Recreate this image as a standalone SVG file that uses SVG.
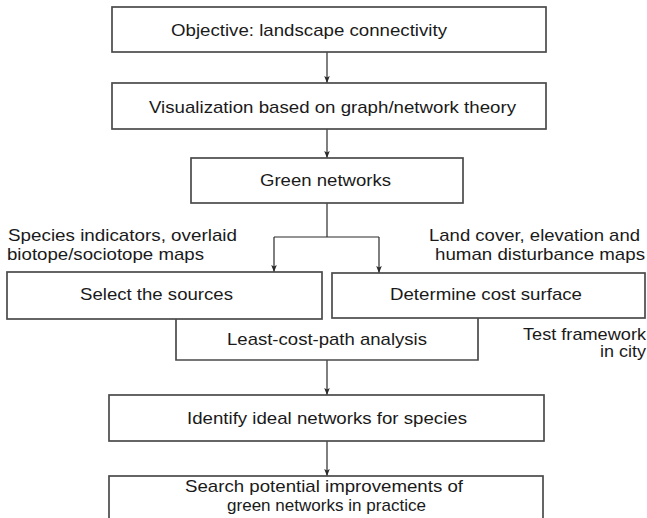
<svg xmlns="http://www.w3.org/2000/svg" width="647" height="518" viewBox="0 0 647 518">
<style>
.box{fill:#fff;stroke:#4a4a4a;stroke-width:1.7}
.ln{fill:none;stroke:#2a2a2a;stroke-width:1.2}
text{font-family:"Liberation Sans",Arial,sans-serif;font-size:17px;fill:#1a1a1a}
.c{text-anchor:middle}
.e{text-anchor:end}
</style>
<defs>
<marker id="ah" viewBox="0 0 7 6" refX="7" refY="3" markerWidth="7" markerHeight="6" markerUnits="userSpaceOnUse" orient="auto">
<path d="M0,0.2 L7,3 L0,5.8 L1.5,3 Z" fill="#2a2a2a"/>
</marker>
</defs>
<rect width="647" height="518" fill="#fff"/>
<g id="connectors">
<line class="ln" x1="327" y1="52" x2="327" y2="83" marker-end="url(#ah)"/>
<line class="ln" x1="327" y1="129" x2="327" y2="158" marker-end="url(#ah)"/>
<path class="ln" d="M327,203 V237"/>
<path class="ln" d="M274,237 H379"/>
<line class="ln" x1="274" y1="237" x2="274" y2="272" marker-end="url(#ah)"/>
<line class="ln" x1="379" y1="237" x2="379" y2="273" marker-end="url(#ah)"/>
<line class="ln" x1="327" y1="360" x2="327" y2="395" marker-end="url(#ah)"/>
<line class="ln" x1="327" y1="441" x2="327" y2="476" marker-end="url(#ah)"/>
</g>
<g id="objective">
<rect class="box" x="112" y="7" width="434" height="45"/>
<text class="c" x="309" y="36" textLength="276" lengthAdjust="spacingAndGlyphs">Objective: landscape connectivity</text>
</g>
<g id="visualization">
<rect class="box" x="112" y="83" width="434" height="46"/>
<text class="c" x="332.5" y="112.5" textLength="367" lengthAdjust="spacingAndGlyphs">Visualization based on graph/network theory</text>
</g>
<g id="green-networks">
<rect class="box" x="191" y="158" width="272" height="45"/>
<text class="c" x="325.5" y="186" textLength="131" lengthAdjust="spacingAndGlyphs">Green networks</text>
</g>
<g id="label-species">
<text x="8" y="241" textLength="229" lengthAdjust="spacingAndGlyphs">Species indicators, overlaid</text>
<text x="7" y="260" textLength="197" lengthAdjust="spacingAndGlyphs">biotope/sociotope maps</text>
</g>
<g id="label-landcover">
<text x="429" y="241" textLength="211" lengthAdjust="spacingAndGlyphs">Land cover, elevation and</text>
<text x="435" y="260" textLength="210" lengthAdjust="spacingAndGlyphs">human disturbance maps</text>
</g>
<g id="least-cost">
<path class="box" d="M176,319 V360 H478 V318"/>
<text class="c" x="327" y="345" textLength="200" lengthAdjust="spacingAndGlyphs">Least-cost-path analysis</text>
</g>
<g id="select-sources">
<rect class="box" x="7" y="272" width="315" height="47"/>
<text class="c" x="156.5" y="300" textLength="153" lengthAdjust="spacingAndGlyphs">Select the sources</text>
</g>
<g id="cost-surface">
<rect class="box" x="332" y="273" width="313" height="45"/>
<text class="c" x="486" y="300" textLength="192" lengthAdjust="spacingAndGlyphs">Determine cost surface</text>
</g>
<g id="label-test">
<text x="523" y="340" textLength="123" lengthAdjust="spacingAndGlyphs">Test framework</text>
<text x="600" y="357" textLength="46" lengthAdjust="spacingAndGlyphs">in city</text>
</g>
<g id="identify">
<rect class="box" x="109" y="395" width="435" height="46"/>
<text class="c" x="327" y="424" textLength="280" lengthAdjust="spacingAndGlyphs">Identify ideal networks for species</text>
</g>
<g id="search">
<rect class="box" x="109" y="476" width="434" height="50"/>
<text class="c" x="324" y="491.5" textLength="278" lengthAdjust="spacingAndGlyphs">Search potential improvements of</text>
<text class="c" x="326.5" y="510.5" textLength="199" lengthAdjust="spacingAndGlyphs">green networks in practice</text>
</g>
</svg>
